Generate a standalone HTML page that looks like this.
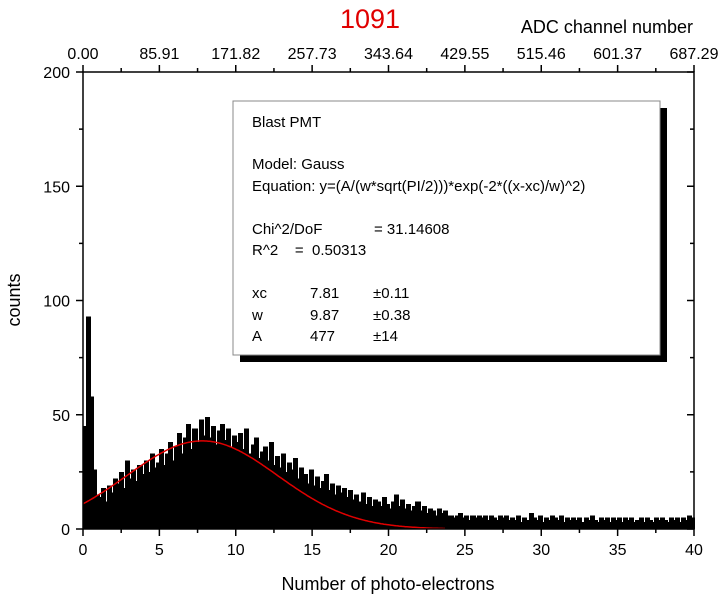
<!DOCTYPE html>
<html><head><meta charset="utf-8"><style>
body{margin:0;background:#fff;}
svg text{font-family:"Liberation Sans",Arial,sans-serif;}
</style></head><body>
<svg id="chart" width="725" height="600" viewBox="0 0 725 600">
<text x="370" y="28" font-size="27" fill="#e00000" text-anchor="middle">1091</text>
<text x="693" y="33" font-size="18" text-anchor="end">ADC channel number</text>
<text x="20" y="300" font-size="18" text-anchor="middle" transform="rotate(-90 20 300)">counts</text>
<text x="388" y="590" font-size="18" text-anchor="middle">Number of photo-electrons</text>
<g id="bars" shape-rendering="crispEdges"></g>
<path id="fit" fill="none" stroke="#e00000" stroke-width="1.5"/>
<rect x="83" y="72" width="611" height="457" fill="none" stroke="#000" stroke-width="1.5"/>
<g id="axes"></g>
<g>
<rect x="240" y="108" width="427" height="254" fill="#000"/>
<rect x="233" y="101" width="427" height="254" fill="#fff" stroke="#888" stroke-width="1"/>
<g font-size="15">
<text x="252" y="127">Blast PMT</text>
<text x="252" y="169">Model: Gauss</text>
<text x="252" y="191">Equation: y=(A/(w*sqrt(PI/2)))*exp(-2*((x-xc)/w)^2)</text>
<text x="252" y="234">Chi^2/DoF</text><text x="374" y="234">= 31.14608</text>
<text x="252" y="255">R^2&#160;&#160;&#160;&#160;=&#160;&#160;0.50313</text>
<text x="252" y="298">xc</text><text x="310" y="298">7.81</text><text x="373" y="298">±0.11</text>
<text x="252" y="320">w</text><text x="310" y="320">9.87</text><text x="373" y="320">±0.38</text>
<text x="252" y="341">A</text><text x="310" y="341">477</text><text x="373" y="341">±14</text>
</g></g>
</svg>
<script>
const binWidth = 0.2;
const counts = [45,93,58,26,15,14,18,12,19,16,
22,20,25,18,30,22,26,21,28,24,
30,25,33,27,29,35,28,33,38,30,
36,42,33,40,46,35,44,38,48,41,
49,40,45,37,43,46,39,44,36,41,
38,42,35,44,33,37,40,31,34,36,
30,38,28,32,27,33,25,29,26,31,
22,27,24,20,26,19,23,18,21,24,
17,20,15,19,16,18,14,17,13,15,
12,16,11,14,10,13,12,10,14,11,
9,12,15,10,13,9,11,8,10,12,
8,10,7,9,8,6,9,7,8,6,
6,5,6,7,5,6,4,6,5,6,5,6,4,6,5,4,6,5,6,4,
5,4,6,3,5,4,7,5,4,6,3,5,4,6,5,4,6,3,5,4,
5,4,5,3,5,4,6,4,3,5,4,5,3,5,4,5,3,5,4,5,
3,4,5,3,5,4,3,5,4,5,4,3,5,4,5,3,5,4,6,5];
const xTicks = [0,5,10,15,20,25,30,35,40];
const yTicks = [0,50,100,150,200];
const topTicks = ["0.00","85.91","171.82","257.73","343.64","429.55","515.46","601.37","687.29"];
const fitXc = 7.81, fitW = 9.87, fitA = 477, fitEnd = 23.8;

const X = v => 83 + v * (611/40);
const Y = v => 529 - v * (457/200);
const NS = 'http://www.w3.org/2000/svg';
const bars = document.getElementById('bars');
counts.forEach((c, i) => {
  const r = document.createElementNS(NS, 'rect');
  const x0 = X(i * binWidth), x1 = X((i + 1) * binWidth);
  r.setAttribute('x', Math.floor(x0)); r.setAttribute('width', Math.ceil(x1) - Math.floor(x0) + 1);
  r.setAttribute('y', Y(c)); r.setAttribute('height', Y(0) - Y(c));
  r.setAttribute('fill', '#000');
  
  
  bars.appendChild(r);
});
let d = '';
for (let x = 0; x <= fitEnd; x += 0.1) {
  const y = fitA / (fitW * Math.sqrt(Math.PI / 2)) * Math.exp(-2 * Math.pow((x - fitXc) / fitW, 2));
  d += (d ? 'L' : 'M') + X(x).toFixed(1) + ',' + Y(y).toFixed(1);
}
document.getElementById('fit').setAttribute('d', d);
const ax = document.getElementById('axes');
function line(x1, y1, x2, y2) {
  const l = document.createElementNS(NS, 'line');
  l.setAttribute('x1', x1); l.setAttribute('y1', y1); l.setAttribute('x2', x2); l.setAttribute('y2', y2);
  l.setAttribute('stroke', '#000'); l.setAttribute('stroke-width', '1.5');
  
  
  ax.appendChild(l);
}
function text(x, y, s, anchor) {
  const t = document.createElementNS(NS, 'text');
  t.setAttribute('x', x); t.setAttribute('y', y); t.setAttribute('font-size', '16');
  t.setAttribute('text-anchor', anchor); t.textContent = s;
  
  
  ax.appendChild(t);
}
xTicks.forEach((v, i) => {
  const x = X(v);
  line(x, 529, x, 536); line(x, 72, x, 65);
  text(x, 555, String(v), 'middle');
  text(x, 59, topTicks[i], 'middle');
  if (i < xTicks.length - 1) { const xm = X(v + 2.5); line(xm, 529, xm, 533); line(xm, 72, xm, 68); }
});
yTicks.forEach((v, i) => {
  const y = Y(v);
  line(83, y, 76, y); line(694, y, 687, y);
  text(70, y + 6, String(v), 'end');
  if (i < yTicks.length - 1) { const ym = Y(v + 25); line(83, ym, 79, ym); line(694, ym, 690, ym); }
});
</script>
</body></html>
